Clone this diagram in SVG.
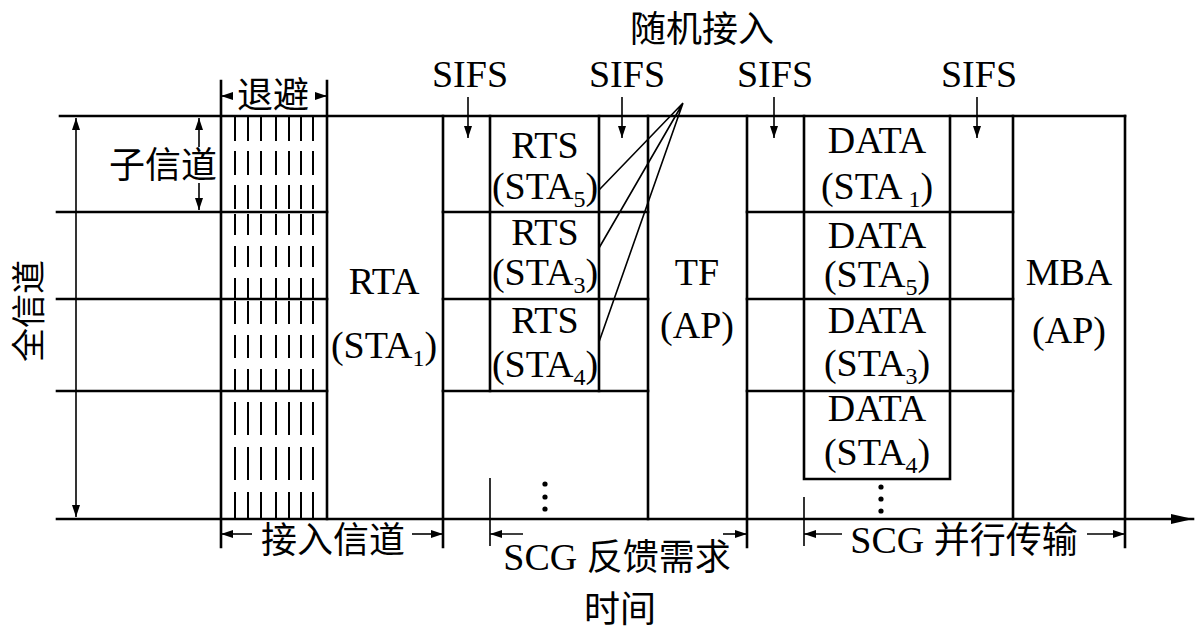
<svg xmlns="http://www.w3.org/2000/svg" width="1200" height="630" viewBox="0 0 1200 630">
<defs>
<style>
.ln{stroke:#000;stroke-width:2.6;fill:none;stroke-linecap:square}
.th{stroke:#000;stroke-width:1.6;fill:none}
.hs{stroke:#000;stroke-width:2;fill:none}
.t{font-family:"Liberation Serif","Times New Roman","DejaVu Serif",serif;font-size:38px;fill:#000;text-anchor:middle}
.c{font-family:"Noto Sans CJK SC","Noto Sans CJK JP",sans-serif;font-size:36px;fill:#000;text-anchor:middle}
.lat{font-family:"Liberation Serif","Times New Roman","DejaVu Serif",serif;font-size:38px}
.sub{font-size:24px}
</style>
<marker id="ah" viewBox="0 0 12 8" refX="12" refY="4" markerWidth="12" markerHeight="8" markerUnits="userSpaceOnUse" orient="auto-start-reverse">
<path d="M0,0 L12,4 L0,8 Z" fill="#000"/>
</marker>
<marker id="big" viewBox="0 0 22 10" refX="22" refY="5" markerWidth="22" markerHeight="10" markerUnits="userSpaceOnUse" orient="auto">
<path d="M0,0 L22,5 L0,10 Z" fill="#000"/>
</marker>
</defs>
<rect width="1200" height="630" fill="#fff"/>

<g id="grid">
<path class="ln" d="M60,116 H1125"/>
<path class="ln" d="M57,212 H327 M443,212 H648 M747,212 H1013"/>
<path class="ln" d="M57,299 H327 M443,299 H648 M747,299 H1013"/>
<path class="ln" d="M57,391 H327 M443,391 H648 M747,391 H1013"/>
<path class="ln" d="M221,81 V547 M327,81 V519 M443,116 V547 M648,116 V519 M747,116 V547 M1013,116 V519 M1125,116 V547"/>
</g>

<g id="backoff">
<path class="hs" stroke-dasharray="24 10" d="M235,117 V211 M248,117 V211 M261,117 V211 M276,117 V211 M289,117 V211 M301,117 V211 M313,117 V211"/>
<path class="hs" stroke-dasharray="21 11" d="M235,214 V298 M248,214 V298 M261,214 V298 M276,214 V298 M289,214 V298 M301,214 V298 M313,214 V298"/>
<path class="hs" stroke-dasharray="23 11" d="M235,301 V390 M248,301 V390 M261,301 V390 M276,301 V390 M289,301 V390 M301,301 V390 M313,301 V390"/>
<path class="hs" stroke-dasharray="33 12" d="M235,402 V519 M248,402 V519 M261,402 V519 M276,402 V519 M289,402 V519 M301,402 V519 M313,402 V519"/>
<text class="c" x="273" y="108">退避</text>
</g>

<g id="rta">
<text class="t" x="384" y="294">RTA</text>
<text class="t" x="384" y="358">(STA<tspan class="sub" dy="8">1</tspan><tspan dy="-8">)</tspan></text>
</g>

<g id="rts">
<path class="ln" d="M490,116 V391 M599,116 V391"/>
<text class="t" x="545" y="158">RTS</text>
<text class="t" x="545" y="199">(STA<tspan class="sub" dy="8">5</tspan><tspan dy="-8">)</tspan></text>
<text class="t" x="545" y="245">RTS</text>
<text class="t" x="545" y="285">(STA<tspan class="sub" dy="8">3</tspan><tspan dy="-8">)</tspan></text>
<text class="t" x="545" y="333">RTS</text>
<text class="t" x="545" y="377">(STA<tspan class="sub" dy="8">4</tspan><tspan dy="-8">)</tspan></text>
</g>

<g id="tf">
<text class="t" x="697" y="285">TF</text>
<text class="t" x="697" y="338">(AP)</text>
</g>

<g id="data">
<path class="ln" d="M804,116 V479 H950 V116"/>
<text class="t" x="877" y="153">DATA</text>
<text class="t" x="877" y="199">(STA<tspan class="sub" dy="8"> 1</tspan><tspan dy="-8">)</tspan></text>
<text class="t" x="877" y="248">DATA</text>
<text class="t" x="877" y="287">(STA<tspan class="sub" dy="8">5</tspan><tspan dy="-8">)</tspan></text>
<text class="t" x="877" y="333">DATA</text>
<text class="t" x="877" y="376">(STA<tspan class="sub" dy="8">3</tspan><tspan dy="-8">)</tspan></text>
<text class="t" x="877" y="421">DATA</text>
<text class="t" x="877" y="465">(STA<tspan class="sub" dy="8">4</tspan><tspan dy="-8">)</tspan></text>
</g>

<g id="mba">
<text class="t" x="1069" y="285">MBA</text>
<text class="t" x="1069" y="343">(AP)</text>
</g>

<g id="labels">
<text class="c" x="702" y="42">随机接入</text>
<text class="t" x="470" y="87">SIFS</text>
<text class="t" x="627" y="87">SIFS</text>
<text class="t" x="775" y="87">SIFS</text>
<text class="t" x="979" y="87">SIFS</text>
<text class="c" x="163" y="178">子信道</text>
<text class="c" style="font-size:34px" transform="translate(41,311) rotate(-90)" x="0" y="0">全信道</text>
<text class="c" x="333" y="553">接入信道</text>
<text class="c" x="617" y="570"><tspan class="lat">SCG </tspan>反馈需求</text>
<text class="c" x="620" y="622">时间</text>
<text class="c" x="964" y="553"><tspan class="lat">SCG </tspan>并行传输</text>
<g fill="#000">
<circle cx="545" cy="484" r="2.6"/><circle cx="545" cy="497" r="2.6"/><circle cx="545" cy="509" r="2.6"/>
<circle cx="881" cy="487" r="2.6"/><circle cx="881" cy="499" r="2.6"/><circle cx="881" cy="511" r="2.6"/>
</g>
</g>

<g id="connectors">
<path class="ln" d="M57,519 H1193" marker-end="url(#big)"/>
<path class="th" d="M76,118 V517" marker-start="url(#ah)" marker-end="url(#ah)"/>
<path class="th" d="M199,118 V147" marker-start="url(#ah)"/>
<path class="th" d="M199,183 V210" marker-end="url(#ah)"/>
<path class="th" d="M221,96 H233" marker-start="url(#ah)"/>
<path class="th" d="M315,96 H327" marker-end="url(#ah)"/>
<path class="th" d="M468,97 V138" marker-end="url(#ah)"/>
<path class="th" d="M622,97 V138" marker-end="url(#ah)"/>
<path class="th" d="M774,97 V138" marker-end="url(#ah)"/>
<path class="th" d="M977,97 V138" marker-end="url(#ah)"/>
<path class="th" stroke-width="1.8" d="M683,103 L599,190 M683,103 L599,248 M683,103 L599,342"/>
<path class="th" d="M490,478 V546 M804,497 V546"/>
<path class="th" d="M221,534 H252" marker-start="url(#ah)"/>
<path class="th" d="M412,534 H443" marker-end="url(#ah)"/>
<path class="th" d="M490,534 H523" marker-start="url(#ah)"/>
<path class="th" d="M723,534 H747" marker-end="url(#ah)"/>
<path class="th" d="M804,534 H842" marker-start="url(#ah)"/>
<path class="th" d="M1087,534 H1125" marker-end="url(#ah)"/>
</g>
</svg>
